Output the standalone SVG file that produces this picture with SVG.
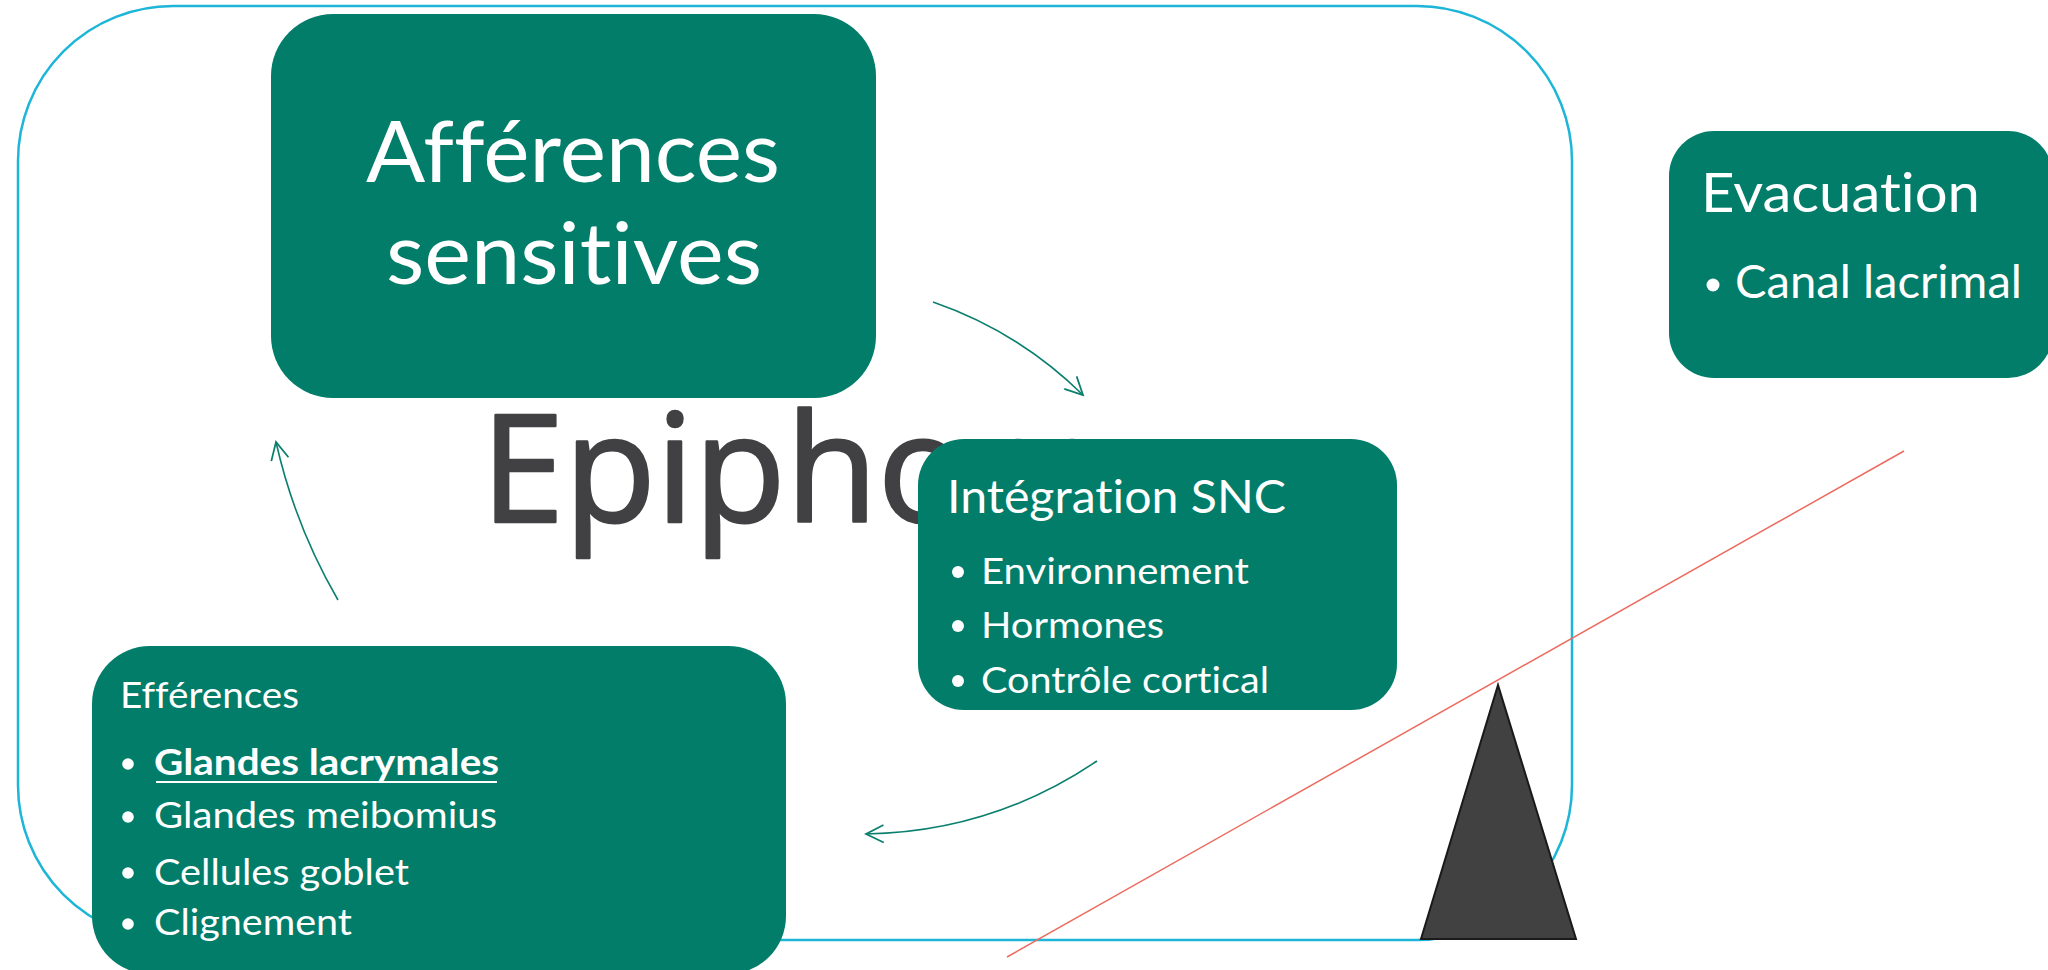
<svg xmlns="http://www.w3.org/2000/svg" width="2048" height="970" viewBox="0 0 2048 970">
<defs>
<style>
.box{fill:#017D6A}
.t{fill:#ffffff;font-family:Lato,"Open Sans",sans-serif;font-variant-ligatures:none;font-feature-settings:"liga" 0,"clig" 0}
.b{fill:#ffffff}
.conn{fill:none;stroke:#0B7F6E;stroke-width:1.6}
</style>
<marker id="arr" markerUnits="userSpaceOnUse" markerWidth="22" markerHeight="22" viewBox="0 0 20 20" refX="18" refY="10" orient="auto">
<path d="M2,2 L18,10 L2,18" fill="none" stroke="#0B7F6E" stroke-width="1.6"/>
</marker>
</defs>
<rect width="2048" height="970" fill="#ffffff"/>
<g id="frame">
<rect x="18" y="6" width="1554" height="934" rx="155" ry="155" fill="none" stroke="#1DB5D8" stroke-width="2.5"/>
</g>
<g id="title">
<text x="481" y="522" font-family="'Open Sans',sans-serif" font-size="150" font-weight="400" fill="#414143" stroke="#414143" stroke-width="2.6" stroke-linejoin="round">Epiphora</text>
</g>
<g id="connectors">
<path class="conn" d="M933,302 Q1018.5,331.5 1083,395" marker-end="url(#arr)"/>
<path class="conn" d="M1097,761 Q992,832 866,834" marker-end="url(#arr)"/>
<path class="conn" d="M338,600 Q295,526 276,442" marker-end="url(#arr)"/>
</g>
<g id="afferences">
<rect class="box" x="271" y="14" width="605" height="384" rx="62" ry="62"/>
<text class="t" x="366" y="182" font-size="85" textLength="414" lengthAdjust="spacingAndGlyphs">Afférences</text>
<text class="t" x="386" y="284" font-size="85" textLength="376" lengthAdjust="spacingAndGlyphs">sensitives</text>
</g>
<g id="integration">
<rect class="box" x="918" y="439" width="479" height="271" rx="46" ry="46"/>
<text class="t" x="947" y="513" font-size="46" textLength="339" lengthAdjust="spacingAndGlyphs">Intégration SNC</text>
<circle class="b" cx="958" cy="572" r="6"/>
<text class="t" x="981" y="584" font-size="36" textLength="268" lengthAdjust="spacingAndGlyphs">Environnement</text>
<circle class="b" cx="958" cy="626" r="6"/>
<text class="t" x="981" y="638" font-size="36" textLength="183" lengthAdjust="spacingAndGlyphs">Hormones</text>
<circle class="b" cx="958" cy="681" r="6"/>
<text class="t" x="981" y="693" font-size="36" textLength="288" lengthAdjust="spacingAndGlyphs">Contrôle cortical</text>
</g>
<g id="efferences">
<rect class="box" x="92" y="646" width="694" height="328" rx="58" ry="58"/>
<text class="t" x="120" y="708" font-size="36" textLength="179" lengthAdjust="spacingAndGlyphs">Efférences</text>
<circle class="b" cx="128" cy="764" r="5.8"/>
<text class="t" x="154" y="775" font-size="36" font-weight="bold" textLength="345" lengthAdjust="spacingAndGlyphs">Glandes lacrymales</text>
<line x1="156" y1="782" x2="497" y2="782" stroke="#ffffff" stroke-width="2.2"/>
<circle class="b" cx="128" cy="817" r="5.8"/>
<text class="t" x="154" y="828" font-size="36" textLength="343" lengthAdjust="spacingAndGlyphs">Glandes meibomius</text>
<circle class="b" cx="128" cy="873" r="5.8"/>
<text class="t" x="154" y="885" font-size="36" textLength="255" lengthAdjust="spacingAndGlyphs">Cellules goblet</text>
<circle class="b" cx="128" cy="924" r="5.8"/>
<text class="t" x="154" y="935" font-size="36" textLength="198" lengthAdjust="spacingAndGlyphs">Clignement</text>
</g>
<g id="evacuation">
<rect class="box" x="1669" y="131" width="384" height="247" rx="45" ry="45"/>
<text class="t" x="1701" y="212" font-size="54" textLength="279" lengthAdjust="spacingAndGlyphs">Evacuation</text>
<circle class="b" cx="1713" cy="285" r="6.5"/>
<text class="t" x="1735" y="298" font-size="46" textLength="287" lengthAdjust="spacingAndGlyphs">Canal lacrimal</text>
</g>
<g id="balance">
<polygon points="1498,685 1421,939 1576,939" fill="#414142" stroke="#1A1A1A" stroke-width="2"/>
<line x1="1007" y1="957" x2="1904" y2="451" stroke="#EC6B5E" stroke-width="1.5"/>
</g>
</svg>
